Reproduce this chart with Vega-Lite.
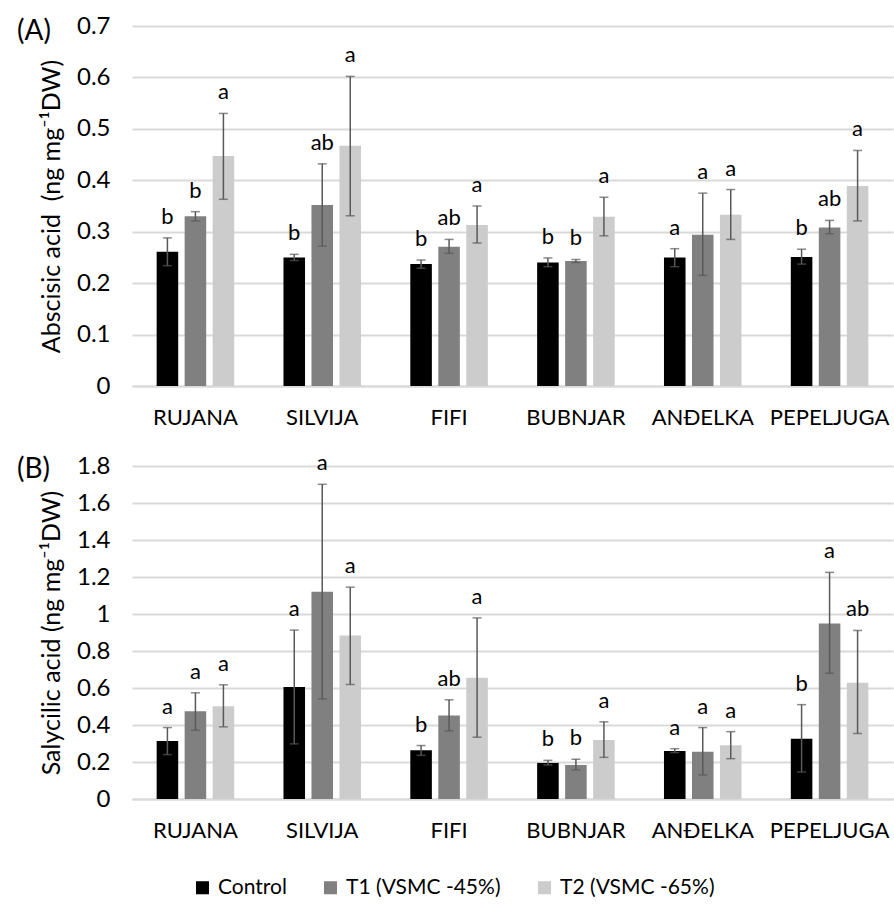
{
  "$schema": "https://vega.github.io/schema/vega-lite/v6.json",
  "padding": {"left": 17, "top": 14, "right": 1, "bottom": 2},
  "config": {
    "font": "Lato",
    "view": {"stroke": null},
    "axis": {"labelFont": "Lato", "titleFont": "Lato", "labelColor": "#000", "titleColor": "#000", "ticks": false},
    "title": {"font": "Lato", "fontWeight": "normal", "fontSize": 28, "color": "#000"},
    "legend": {"orient": "none", "legendX": 60, "legendY": 851, "direction": "horizontal", "labelFontSize": 21, "labelLimit": 400, "labelColor": "#000", "labelFont": "Lato", "symbolType": "square", "symbolSize": 170, "symbolStrokeWidth": 0, "columnPadding": 33, "labelOffset": 5, "title": null}
  },
  "datasets": {
    "aba": [
      {"variety": "RUJANA", "treatment": "Control", "mean": 0.261, "lo": 0.234, "hi": 0.288, "letter": "b"},
      {"variety": "RUJANA", "treatment": "T1 (VSMC -45%)", "mean": 0.330, "lo": 0.321, "hi": 0.339, "letter": "b"},
      {"variety": "RUJANA", "treatment": "T2 (VSMC -65%)", "mean": 0.447, "lo": 0.363, "hi": 0.530, "letter": "a"},
      {"variety": "SILVIJA", "treatment": "Control", "mean": 0.250, "lo": 0.244, "hi": 0.256, "letter": "b"},
      {"variety": "SILVIJA", "treatment": "T1 (VSMC -45%)", "mean": 0.352, "lo": 0.272, "hi": 0.432, "letter": "ab"},
      {"variety": "SILVIJA", "treatment": "T2 (VSMC -65%)", "mean": 0.467, "lo": 0.331, "hi": 0.602, "letter": "a"},
      {"variety": "FIFI", "treatment": "Control", "mean": 0.237, "lo": 0.229, "hi": 0.245, "letter": "b"},
      {"variety": "FIFI", "treatment": "T1 (VSMC -45%)", "mean": 0.271, "lo": 0.258, "hi": 0.285, "letter": "ab"},
      {"variety": "FIFI", "treatment": "T2 (VSMC -65%)", "mean": 0.313, "lo": 0.278, "hi": 0.350, "letter": "a"},
      {"variety": "BUBNJAR", "treatment": "Control", "mean": 0.240, "lo": 0.232, "hi": 0.249, "letter": "b"},
      {"variety": "BUBNJAR", "treatment": "T1 (VSMC -45%)", "mean": 0.243, "lo": 0.240, "hi": 0.246, "letter": "b"},
      {"variety": "BUBNJAR", "treatment": "T2 (VSMC -65%)", "mean": 0.329, "lo": 0.292, "hi": 0.367, "letter": "a"},
      {"variety": "ANĐELKA", "treatment": "Control", "mean": 0.250, "lo": 0.232, "hi": 0.267, "letter": "a"},
      {"variety": "ANĐELKA", "treatment": "T1 (VSMC -45%)", "mean": 0.294, "lo": 0.215, "hi": 0.375, "letter": "a"},
      {"variety": "ANĐELKA", "treatment": "T2 (VSMC -65%)", "mean": 0.333, "lo": 0.285, "hi": 0.382, "letter": "a"},
      {"variety": "PEPELJUGA", "treatment": "Control", "mean": 0.251, "lo": 0.237, "hi": 0.266, "letter": "b"},
      {"variety": "PEPELJUGA", "treatment": "T1 (VSMC -45%)", "mean": 0.308, "lo": 0.296, "hi": 0.322, "letter": "ab"},
      {"variety": "PEPELJUGA", "treatment": "T2 (VSMC -65%)", "mean": 0.389, "lo": 0.321, "hi": 0.458, "letter": "a"}
    ],
    "sa": [
      {"variety": "RUJANA", "treatment": "Control", "mean": 0.314, "lo": 0.240, "hi": 0.386, "letter": "a"},
      {"variety": "RUJANA", "treatment": "T1 (VSMC -45%)", "mean": 0.474, "lo": 0.372, "hi": 0.574, "letter": "a"},
      {"variety": "RUJANA", "treatment": "T2 (VSMC -65%)", "mean": 0.501, "lo": 0.390, "hi": 0.617, "letter": "a"},
      {"variety": "SILVIJA", "treatment": "Control", "mean": 0.606, "lo": 0.298, "hi": 0.913, "letter": "a"},
      {"variety": "SILVIJA", "treatment": "T1 (VSMC -45%)", "mean": 1.120, "lo": 0.541, "hi": 1.701, "letter": "a"},
      {"variety": "SILVIJA", "treatment": "T2 (VSMC -65%)", "mean": 0.884, "lo": 0.619, "hi": 1.145, "letter": "a"},
      {"variety": "FIFI", "treatment": "Control", "mean": 0.263, "lo": 0.236, "hi": 0.289, "letter": "b"},
      {"variety": "FIFI", "treatment": "T1 (VSMC -45%)", "mean": 0.451, "lo": 0.368, "hi": 0.536, "letter": "ab"},
      {"variety": "FIFI", "treatment": "T2 (VSMC -65%)", "mean": 0.655, "lo": 0.334, "hi": 0.979, "letter": "a"},
      {"variety": "BUBNJAR", "treatment": "Control", "mean": 0.195, "lo": 0.184, "hi": 0.209, "letter": "b"},
      {"variety": "BUBNJAR", "treatment": "T1 (VSMC -45%)", "mean": 0.184, "lo": 0.157, "hi": 0.215, "letter": "b"},
      {"variety": "BUBNJAR", "treatment": "T2 (VSMC -65%)", "mean": 0.319, "lo": 0.225, "hi": 0.417, "letter": "a"},
      {"variety": "ANĐELKA", "treatment": "Control", "mean": 0.260, "lo": 0.251, "hi": 0.272, "letter": "a"},
      {"variety": "ANĐELKA", "treatment": "T1 (VSMC -45%)", "mean": 0.256, "lo": 0.130, "hi": 0.386, "letter": "a"},
      {"variety": "ANĐELKA", "treatment": "T2 (VSMC -65%)", "mean": 0.290, "lo": 0.218, "hi": 0.364, "letter": "a"},
      {"variety": "PEPELJUGA", "treatment": "Control", "mean": 0.326, "lo": 0.146, "hi": 0.510, "letter": "b"},
      {"variety": "PEPELJUGA", "treatment": "T1 (VSMC -45%)", "mean": 0.949, "lo": 0.680, "hi": 1.225, "letter": "a"},
      {"variety": "PEPELJUGA", "treatment": "T2 (VSMC -65%)", "mean": 0.628, "lo": 0.354, "hi": 0.911, "letter": "ab"}
    ]
  },
  "spacing": 24,
  "vconcat": [
    {
      "data": {"name": "aba"},
      "width": 761,
      "height": 360,
      "title": {"text": "(A)", "anchor": "start", "frame": "group", "dx": -115, "offset": -32},
      "encoding": {
        "x": {"field": "variety", "type": "nominal", "sort": null, "title": null,
              "scale": {"paddingInner": 0.34, "paddingOuter": 0.17},
              "axis": {"labelAngle": 0, "labelFontSize": 22, "labelPadding": 21, "domainColor": "#d9d9d9", "domainWidth": 2}},
        "xOffset": {"field": "treatment", "type": "nominal", "sort": null,
                    "scale": {"domain": ["Control", "T1 (VSMC -45%)", "T2 (VSMC -65%)"], "paddingInner": 0.23, "paddingOuter": 0.11}}
      },
      "layer": [
        {
          "mark": {"type": "bar"},
          "encoding": {
            "y": {"field": "mean", "type": "quantitative",
                  "title": "Abscisic acid\u00a0\u00a0(ng mg⁻¹DW)",
                  "scale": {"domain": [0, 0.7], "nice": false},
                  "axis": {"values": [0, 0.1, 0.2, 0.3, 0.4, 0.5, 0.6, 0.7], "format": ".1~f", "labelFontSize": 24, "labelPadding": 22, "titleFontSize": 25, "titleFontWeight": "normal", "titlePadding": 12, "domain": false, "gridColor": "#d9d9d9", "gridWidth": 2}},
            "color": {"field": "treatment", "type": "nominal", "sort": null,
                      "scale": {"domain": ["Control", "T1 (VSMC -45%)", "T2 (VSMC -65%)"], "range": ["#000000", "#808080", "#cccccc"]}}
          }
        },
        {
          "mark": {"type": "rule", "color": "#595959", "strokeWidth": 1.5},
          "encoding": {"y": {"field": "lo", "type": "quantitative", "title": "Abscisic acid\u00a0\u00a0(ng mg⁻¹DW)",
                  "axis": {"values": [0, 0.1, 0.2, 0.3, 0.4, 0.5, 0.6, 0.7], "format": ".1~f", "labelFontSize": 24, "labelPadding": 22, "titleFontSize": 25, "titleFontWeight": "normal", "titlePadding": 12, "domain": false, "gridColor": "#d9d9d9", "gridWidth": 2}}, "y2": {"field": "hi"}}
        },
        {
          "mark": {"type": "tick", "color": "#595959", "thickness": 1.5, "size": 9, "orient": "horizontal"},
          "encoding": {"y": {"field": "lo", "type": "quantitative", "title": "Abscisic acid\u00a0\u00a0(ng mg⁻¹DW)",
                  "axis": {"values": [0, 0.1, 0.2, 0.3, 0.4, 0.5, 0.6, 0.7], "format": ".1~f", "labelFontSize": 24, "labelPadding": 22, "titleFontSize": 25, "titleFontWeight": "normal", "titlePadding": 12, "domain": false, "gridColor": "#d9d9d9", "gridWidth": 2}}}
        },
        {
          "mark": {"type": "tick", "color": "#595959", "thickness": 1.5, "size": 9, "orient": "horizontal"},
          "encoding": {"y": {"field": "hi", "type": "quantitative", "title": "Abscisic acid\u00a0\u00a0(ng mg⁻¹DW)",
                  "axis": {"values": [0, 0.1, 0.2, 0.3, 0.4, 0.5, 0.6, 0.7], "format": ".1~f", "labelFontSize": 24, "labelPadding": 22, "titleFontSize": 25, "titleFontWeight": "normal", "titlePadding": 12, "domain": false, "gridColor": "#d9d9d9", "gridWidth": 2}}}
        },
        {
          "mark": {"type": "text", "baseline": "alphabetic", "dy": -14, "fontSize": 22, "color": "#000"},
          "encoding": {"y": {"field": "hi", "type": "quantitative", "title": "Abscisic acid\u00a0\u00a0(ng mg⁻¹DW)",
                  "axis": {"values": [0, 0.1, 0.2, 0.3, 0.4, 0.5, 0.6, 0.7], "format": ".1~f", "labelFontSize": 24, "labelPadding": 22, "titleFontSize": 25, "titleFontWeight": "normal", "titlePadding": 12, "domain": false, "gridColor": "#d9d9d9", "gridWidth": 2}}, "text": {"field": "letter"}}
        }
      ]
    },
    {
      "data": {"name": "sa"},
      "width": 761,
      "height": 333,
      "title": {"text": "(B)", "anchor": "start", "frame": "group", "dx": -115, "offset": -32},
      "encoding": {
        "x": {"field": "variety", "type": "nominal", "sort": null, "title": null,
              "scale": {"paddingInner": 0.34, "paddingOuter": 0.17},
              "axis": {"labelAngle": 0, "labelFontSize": 22, "labelPadding": 21, "domainColor": "#d9d9d9", "domainWidth": 2}},
        "xOffset": {"field": "treatment", "type": "nominal", "sort": null,
                    "scale": {"domain": ["Control", "T1 (VSMC -45%)", "T2 (VSMC -65%)"], "paddingInner": 0.23, "paddingOuter": 0.11}}
      },
      "layer": [
        {
          "mark": {"type": "bar"},
          "encoding": {
            "y": {"field": "mean", "type": "quantitative",
                  "title": "Salycilic acid (ng mg⁻¹DW)",
                  "scale": {"domain": [0, 1.8], "nice": false},
                  "axis": {"values": [0, 0.2, 0.4, 0.6, 0.8, 1, 1.2, 1.4, 1.6, 1.8], "format": ".1~f", "labelFontSize": 24, "labelPadding": 22, "titleFontSize": 25, "titleFontWeight": "normal", "titlePadding": 12, "domain": false, "gridColor": "#d9d9d9", "gridWidth": 2}},
            "color": {"field": "treatment", "type": "nominal", "sort": null,
                      "scale": {"domain": ["Control", "T1 (VSMC -45%)", "T2 (VSMC -65%)"], "range": ["#000000", "#808080", "#cccccc"]}}
          }
        },
        {
          "mark": {"type": "rule", "color": "#595959", "strokeWidth": 1.5},
          "encoding": {"y": {"field": "lo", "type": "quantitative", "title": "Salycilic acid (ng mg⁻¹DW)",
                  "axis": {"values": [0, 0.2, 0.4, 0.6, 0.8, 1, 1.2, 1.4, 1.6, 1.8], "format": ".1~f", "labelFontSize": 24, "labelPadding": 22, "titleFontSize": 25, "titleFontWeight": "normal", "titlePadding": 12, "domain": false, "gridColor": "#d9d9d9", "gridWidth": 2}}, "y2": {"field": "hi"}}
        },
        {
          "mark": {"type": "tick", "color": "#595959", "thickness": 1.5, "size": 9, "orient": "horizontal"},
          "encoding": {"y": {"field": "lo", "type": "quantitative", "title": "Salycilic acid (ng mg⁻¹DW)",
                  "axis": {"values": [0, 0.2, 0.4, 0.6, 0.8, 1, 1.2, 1.4, 1.6, 1.8], "format": ".1~f", "labelFontSize": 24, "labelPadding": 22, "titleFontSize": 25, "titleFontWeight": "normal", "titlePadding": 12, "domain": false, "gridColor": "#d9d9d9", "gridWidth": 2}}}
        },
        {
          "mark": {"type": "tick", "color": "#595959", "thickness": 1.5, "size": 9, "orient": "horizontal"},
          "encoding": {"y": {"field": "hi", "type": "quantitative", "title": "Salycilic acid (ng mg⁻¹DW)",
                  "axis": {"values": [0, 0.2, 0.4, 0.6, 0.8, 1, 1.2, 1.4, 1.6, 1.8], "format": ".1~f", "labelFontSize": 24, "labelPadding": 22, "titleFontSize": 25, "titleFontWeight": "normal", "titlePadding": 12, "domain": false, "gridColor": "#d9d9d9", "gridWidth": 2}}}
        },
        {
          "mark": {"type": "text", "baseline": "alphabetic", "dy": -14, "fontSize": 22, "color": "#000"},
          "encoding": {"y": {"field": "hi", "type": "quantitative", "title": "Salycilic acid (ng mg⁻¹DW)",
                  "axis": {"values": [0, 0.2, 0.4, 0.6, 0.8, 1, 1.2, 1.4, 1.6, 1.8], "format": ".1~f", "labelFontSize": 24, "labelPadding": 22, "titleFontSize": 25, "titleFontWeight": "normal", "titlePadding": 12, "domain": false, "gridColor": "#d9d9d9", "gridWidth": 2}}, "text": {"field": "letter"}}
        }
      ]
    }
  ]
}
